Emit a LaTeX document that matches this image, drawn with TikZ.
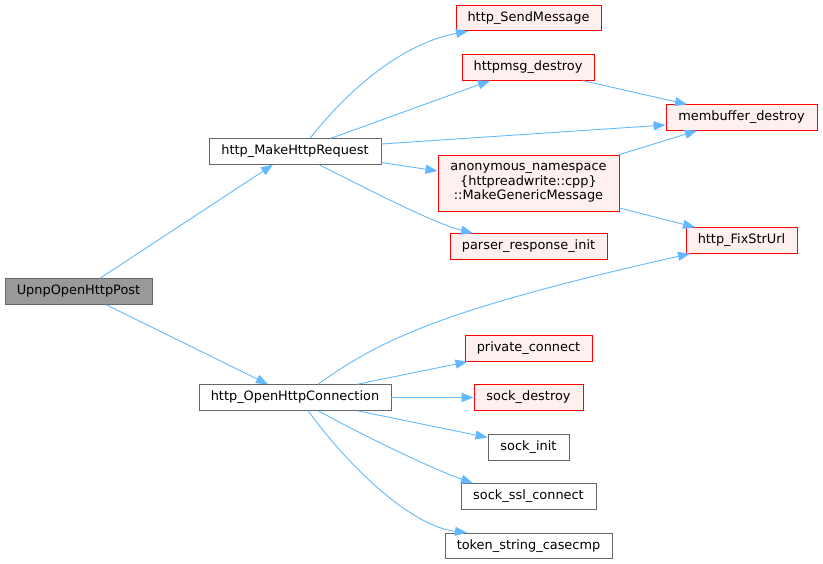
\documentclass[tikz,border=0pt]{standalone}
\usepackage{fontspec}
\setmainfont{DejaVu Sans}
\usetikzlibrary{arrows.meta,calc}
\definecolor{edgec}{HTML}{63B8FF}
\definecolor{greyb}{HTML}{666666}
\definecolor{rootf}{HTML}{999999}
\definecolor{redf}{HTML}{FFF0F0}
\begin{document}
\begin{tikzpicture}[x=1bp,y=1bp,
  nd/.style={draw=greyb, fill=white, line width=0.9bp, minimum height=25.5bp, inner sep=0pt,
    font=\fontsize{12.9bp}{14.5bp}\selectfont, text=black},
  rn/.style={nd, draw=red, fill=redf},
  rootn/.style={nd, fill=rootf},
  edge/.style={draw=edgec, line width=0.9bp, -{Triangle[length=12bp,width=9bp]}}]
\useasboundingbox (0,0) rectangle (823,564);
\node[rootn, minimum width=147bp] (root) at (78.5,272.5) {UpnpOpenHttpPost};
\node[nd, minimum width=172bp] (mhr) at (295,412.5) {http\_MakeHttpRequest};
\node[nd, minimum width=192bp] (ohc) at (295,166.5) {http\_OpenHttpConnection};
\node[rn, minimum width=145bp] (sm) at (528.5,546) {http\_SendMessage};
\node[rn, minimum width=132bp] (hd) at (528,496.5) {httpmsg\_destroy};
\node[rn, minimum width=151bp] (mb) at (741.5,446.5) {membuffer\_destroy};
\node[rn, minimum width=181bp, minimum height=56bp, align=center] (anon) at (528.5,381) {anonymous\_namespace\\\{httpreadwrite::cpp\}\\::MakeGenericMessage};
\node[rn, minimum width=157bp] (pri) at (528.5,317.5) {parser\_response\_init};
\node[rn, minimum width=111bp] (fix) at (741.5,323.5) {http\_FixStrUrl};
\node[rn, minimum width=127bp] (pc) at (528.5,215.5) {private\_connect};
\node[rn, minimum width=109bp] (sd) at (528.5,166.5) {sock\_destroy};
\node[nd, minimum width=81bp] (si) at (528.5,116.5) {sock\_init};
\node[nd, minimum width=135bp] (ssl) at (528.5,67.5) {sock\_ssl\_connect};
\node[nd, minimum width=167bp] (tok) at (528.5,18) {token\_string\_casecmp};

\draw[edge] ($(root.north)+(21.5,0)$) -- ($(mhr.south)+(-22,0)$);
\draw[edge] ($(root.south)+(27.5,0)$) -- ($(ohc.north)+(-27,0)$);
\draw[edge] ($(mhr.north)+(15,0)$) .. controls (340,464) and (395,519) .. ($(sm.south)+(-60.5,0)$);
\draw[edge] ($(mhr.north)+(36,0)$) -- ($(hd.south)+(-38,0)$);
\draw[edge] ($(mhr.east)+(0,7.5)$) -- ($(mb.west)+(0,-7.5)$);
\draw[edge] ($(mhr.east)+(0,-11)$) -- ($(anon.west)+(0,12)$);
\draw[edge] ($(mhr.south)+(24,0)$) .. controls (360,379) and (430,342) .. ($(pri.north)+(-55.5,0)$);
\draw[edge] ($(hd.south)+(55,0)$) -- ($(mb.north)+(-54.5,0)$);
\draw[edge] (anon.north east) -- ($(mb.south)+(-44.5,0)$);
\draw[edge] ($(anon.east)+(0,-25)$) -- ($(fix.north)+(-46.5,0)$);
\draw[edge] ($(ohc.north)+(23,0)$) .. controls (380,224) and (440,254) .. ($(fix.south)+(-51.5,0)$);
\draw[edge] ($(ohc.north)+(62,0)$) -- ($(pc.south)+(-61,0)$);
\draw[edge] (ohc.east) -- (sd.west);
\draw[edge] ($(ohc.south)+(62,0)$) -- ($(si.west)+(0,10)$);
\draw[edge] ($(ohc.south)+(23,0)$) .. controls (355,133) and (425,98) .. ($(ssl.north)+(-55.5,0)$);
\draw[edge] ($(ohc.south)+(13,0)$) .. controls (340,109) and (405,39) .. ($(tok.north)+(-61.5,0)$);
\end{tikzpicture}
\end{document}
